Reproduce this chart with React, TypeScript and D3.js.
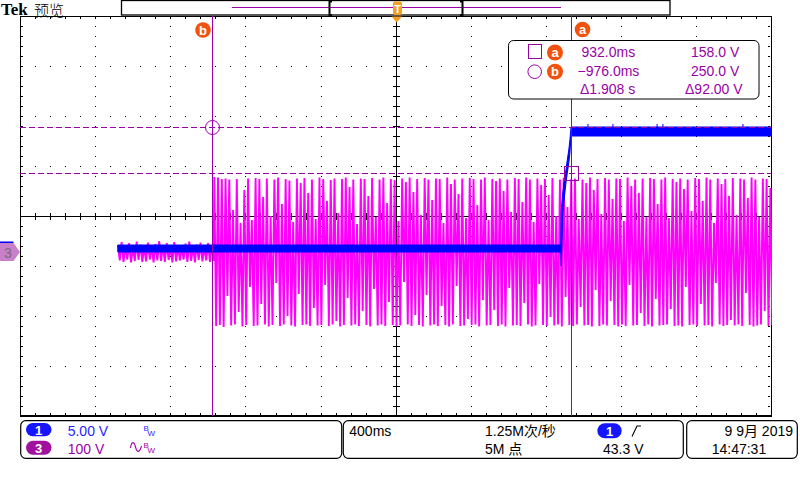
import React from 'react';
import * as d3 from 'd3';

// ---- scope settings ----
const timeDomain: [number, number] = [-2, 2]; // s (400 ms/div, 10 div)
const ch3Domain: [number, number] = [-400, 400]; // V (100 V/div)
const ch1Domain: [number, number] = [-20, 20]; // V (5 V/div)

// ---- channel 3 (magenta) per-cycle extremes, volts ----
const ch3PreStart = -1.479;
const ch3StepStart = -0.966;
const ch3Period = 0.02;
const ch3PreHi = [14, 20, 10, 18, 8, 21, 15, 11, 19, 9, 16, 22, 12, 18, 10, 20, 13, 8, 17, 21, 11, 15, 19, 10, 18, 13];
const ch3PreLo = [-17, -20, -15, -21, -18, -16, -20, -19, -15, -21, -17, -18, -20, -16, -21, -19, -17, -15, -20, -18, -21, -16, -19, -17, -20, -18];
const ch3Hi = [
  150, 149, 146, 147, 145, 84, 146, 58,
  124, 147, 64, 148, 146, 110, 147, 72,
  145, 149, 96, 146, 143, 60, 147, 138,
  148, 118, 145, 66, 149, 146, 102, 144,
  147, 78, 146, 149, 130, 145, 56, 147,
  146, 112, 148, 70, 145, 149, 98, 146,
  144, 62, 147, 140, 149, 120, 146, 74,
  148, 145, 104, 147, 146, 58, 149, 136,
  145, 116, 147, 68, 148, 146, 94, 145,
  149, 64, 146, 142, 147, 122, 145, 80,
  148, 146, 100, 149, 145, 60, 147, 134,
  146, 114, 148, 72, 145, 149, 90, 146,
  147, 66, 145, 138, 149, 124, 146, 76,
  148, 145, 106, 147, 146, 62, 149, 132,
  145, 118, 147, 70, 148, 146, 96, 145,
  149, 68, 146, 140, 147, 126, 145, 82,
  148, 146, 102, 149, 145, 58, 147, 136,
  146, 112, 148, 74, 147, 145, 108, 149,
  145, 70, 147, 146, 128, 148, 145, 96,
];
const ch3Lo = [
  -148, -146, -150, -88, -147, -145, -120, -149,
  -146, -70, -148, -147, -104, -145, -149, -146,
  -62, -148, -145, -128, -147, -149, -84, -146,
  -145, -148, -112, -147, -146, -66, -148, -145,
  -138, -149, -146, -92, -147, -145, -148, -118,
  -146, -149, -74, -147, -145, -148, -100, -146,
  -149, -147, -60, -145, -148, -126, -146, -149,
  -86, -147, -145, -148, -108, -146, -149, -145,
  -68, -148, -147, -134, -146, -145, -149, -96,
  -147, -146, -116, -148, -145, -149, -72, -147,
  -146, -148, -102, -145, -149, -147, -64, -146,
  -148, -130, -147, -145, -149, -90, -146, -148,
  -145, -110, -147, -146, -149, -76, -148, -145,
  -147, -98, -146, -149, -145, -148, -66, -147,
  -146, -122, -148, -145, -149, -94, -147, -146,
  -145, -114, -148, -147, -149, -70, -146, -145,
  -148, -104, -147, -146, -149, -62, -145, -148,
  -146, -136, -147, -145, -148, -82, -146, -149,
  -147, -145, -118, -148, -146, -149, -74, -147,
];

// ---- channel 1 (blue) envelope, volts ----
const ch1Time = [-1.479, 0.878, 0.881, 0.889, 0.897, 0.906, 0.913, 0.921, 0.927, 0.933, 2.0];
const ch1Hi = [0.3, 0.3, 3.8, 5.5, 6.8, 7.8, 8.8, 9.8, 10.8, 12.1, 12.1];
const ch1Lo = [-0.4, -0.4, -1.8, 3.5, 5.0, 6.5, 7.5, 8.5, 9.5, 11.2, 11.2];
const ch1SpikeTime = [1.023, 1.156, 1.391, 1.422, 1.848];
const ch1SpikeV = 12.4;

// ---- cursors ----
const cursorATime = 0.932;
const cursorBTime = -0.976;
const cursorAVolt = 158;
const cursorBVolt = 250;

// ---- texts ----
const readoutRows = [
  ['932.0ms', '158.0 V'],
  ['\u2212976.0ms', '250.0 V'],
  ['\u03941.908 s', '\u039492.00 V'],
];
const ch1Scale = '5.00 V';
const ch3Scale = '100 V';
const timebase = '400ms';
const sampleRate = '1.25M次/秒';
const recordLen = '5M 点';
const trigLevel = '43.3 V';
const dateText = '9 9月 2019';
const timeText = '14:47:31';

const FONT = "'Liberation Sans', 'Noto Sans CJK SC', sans-serif";
const MAG = '#FF00FF';
const BLUE = '#0000FF';
const CUR = '#9A00A8';
const ORANGE = '#F2520E';
const TORANGE = '#F4A024';

export default function App() {
  const x = d3.scaleLinear().domain(timeDomain).range([20, 771.5]);
  const y3 = d3.scaleLinear().domain(ch3Domain).range([452, 52]);
  const y1 = d3.scaleLinear().domain(ch1Domain).range([448, 48]);
  const gx = d3.scaleLinear().domain([0, 10]).range([20, 771.5]);
  const gy = d3.scaleLinear().domain([0, 8]).range([16, 416]);

  // channel 3 zigzag
  const pts: [number, number][] = [];
  ch3PreHi.forEach((h, i) => {
    const t = ch3PreStart + i * ch3Period;
    pts.push([t, h]);
    pts.push([t + ch3Period / 2, ch3PreLo[i]]);
  });
  ch3Hi.forEach((h, i) => {
    const t = ch3StepStart + i * ch3Period;
    pts.push([t, h]);
    pts.push([t + ch3Period / 2, ch3Lo[i]]);
  });
  const ch3Path = d3
    .line<[number, number]>()
    .x((d) => x(d[0]))
    .y((d) => y3(d[1]))(pts) as string;

  const ch1Path = d3
    .area<number>()
    .x((_, i) => x(ch1Time[i]))
    .y0((_, i) => y1(ch1Lo[i]))
    .y1((_, i) => y1(ch1Hi[i]))(ch1Time) as string;

  // grid
  const dots: JSX.Element[] = [];
  for (let k = 1; k <= 9; k++) {
    if (k === 5) continue;
    const xx = Math.round(gx(k));
    for (let j = 1; j < 40; j++) {
      dots.push(<rect key={`v${k}-${j}`} x={xx} y={Math.round(gy(j / 5))} width={1} height={1} />);
    }
  }
  for (let r = 1; r <= 7; r++) {
    if (r === 4) continue;
    const yy = Math.round(gy(r));
    for (let i = 1; i < 50; i++) {
      dots.push(<rect key={`h${r}-${i}`} x={Math.round(gx(i / 5))} y={yy} width={1} height={1} />);
    }
  }
  const ticks: JSX.Element[] = [];
  const cx = Math.round(gx(5));
  const cy = Math.round(gy(4));
  for (let i = 1; i < 50; i++) {
    const xx = Math.round(gx(i / 5));
    ticks.push(<rect key={`ct${i}`} x={xx} y={cy - 3} width={1} height={7} />);
    ticks.push(<rect key={`tt${i}`} x={xx} y={17} width={1} height={2} />);
    ticks.push(<rect key={`bt${i}`} x={xx} y={413} width={1} height={2} />);
  }
  for (let j = 1; j < 40; j++) {
    const yy = Math.round(gy(j / 5));
    ticks.push(<rect key={`cv${j}`} x={cx - 3} y={yy} width={7} height={1} />);
    ticks.push(<rect key={`lt${j}`} x={21} y={yy} width={2} height={1} />);
    ticks.push(<rect key={`rt${j}`} x={768} y={yy} width={2} height={1} />);
  }

  const xa = Math.round(x(cursorATime)) + 0.5;
  const xb = Math.round(x(cursorBTime)) + 0.5;
  const ya = Math.round(y3(cursorAVolt)) + 0.5;
  const yb = Math.round(y3(cursorBVolt)) + 0.5;

  return (
    <svg
      width={800}
      height={480}
      style={{ position: 'absolute', left: 0, top: 0, background: '#fff', fontFamily: FONT }}
    >
      <rect x={0} y={0} width={800} height={480} fill="#fff" />
      <defs>
        <clipPath id="grat">
          <rect x={20} y={16} width={752} height={400} />
        </clipPath>
      </defs>

      {/* header */}
      <text x={1} y={15} fontFamily="'Liberation Serif', serif" fontWeight="bold" fontSize={17} fill="#000">
        Tek
      </text>
      <text x={34} y={16} fontFamily="'Noto Sans CJK SC', sans-serif" fontWeight={300} fontSize={15} fill="#000">
        预览
      </text>
      <rect x={121.5} y={0.5} width={548.5} height={14.5} fill="#fff" stroke="#000" strokeWidth={1.3} />
      <line x1={232} x2={561} y1={7.5} y2={7.5} stroke={CUR} strokeWidth={1} />
      <path d="M332,1.5 L329.5,1.5 L329.5,15 L332,15" fill="none" stroke="#000" strokeWidth={2} />
      <path d="M460,1.5 L462.5,1.5 L462.5,15 L460,15" fill="none" stroke="#000" strokeWidth={2} />

      {/* graticule */}
      <g fill="#000" shapeRendering="crispEdges">
        {dots}
        {ticks}
        <rect x={20} y={cy} width={752} height={1} />
        <rect x={cx} y={16} width={1} height={400} />
      </g>
      <rect x={20.5} y={16.5} width={751} height={399.5} fill="none" stroke="#000" strokeWidth={1} shapeRendering="crispEdges" />
      <rect x={20} y={415} width={752} height={2} fill="#000" />

      {/* traces */}
      <g clipPath="url(#grat)">
        <path d={ch3Path} fill="none" stroke={MAG} strokeWidth={1.9} />
        <path d={ch1Path} fill={BLUE} stroke={BLUE} strokeWidth={1} />
        {ch1SpikeTime.map((t, i) => (
          <line key={i} x1={x(t)} x2={x(t)} y1={y1(ch1SpikeV)} y2={y1(11.6)} stroke={BLUE} strokeWidth={1} />
        ))}
      </g>

      {/* cursors */}
      <g stroke={CUR} fill="none" strokeWidth={1}>
        <line x1={xb} x2={xb} y1={16} y2={416} />
        <line x1={xa} x2={xa} y1={16} y2={416} />
        <line x1={20} x2={771} y1={yb} y2={yb} strokeDasharray="6 3" />
        <line x1={20} x2={771} y1={ya} y2={ya} strokeDasharray="6 3" />
        <circle cx={xb} cy={yb} r={7} />
        <rect x={xa - 7} y={ya - 7} width={14} height={14} />
      </g>
      <circle cx={203} cy={30} r={7.8} fill={ORANGE} />
      <text x={203} y={34.5} textAnchor="middle" fontSize={13} fontWeight="bold" fill="#fff">b</text>
      <circle cx={582.5} cy={29.5} r={7.8} fill={ORANGE} />
      <text x={582.5} y={33.5} textAnchor="middle" fontSize={13} fontWeight="bold" fill="#fff">a</text>

      {/* trigger position marker */}
      <rect x={393} y={1.5} width={9} height={13.5} rx={2} fill={TORANGE} />
      <text x={397.5} y={13} textAnchor="middle" fontSize={11} fontWeight="bold" fill="#fff">T</text>
      <path d="M391.5,16.5 L402,16.5 L396.7,22.5 Z" fill={TORANGE} />

      {/* ground markers */}
      <rect x={0} y={241.5} width={13.5} height={1.7} fill={BLUE} />
      <path d="M0,243 L13.5,243 L20,252 L13.5,261 L0,261 Z" fill="#C97FC9" />
      <text x={4} y={258} fontSize={14} fill="#7A6A7A">3</text>

      {/* readout box */}
      <rect x={508.5} y={40.5} width={250.5} height={58.5} rx={5} fill="#fff" stroke="#000" strokeWidth={1} />
      <rect x={528.5} y={44.5} width={13} height={14} fill="none" stroke={CUR} strokeWidth={1} />
      <circle cx={555} cy={52.5} r={8} fill={ORANGE} />
      <text x={555} y={57} textAnchor="middle" fontSize={13} fontWeight="bold" fill="#fff">a</text>
      <circle cx={534.7} cy={71.7} r={6.8} fill="none" stroke={CUR} strokeWidth={1} />
      <circle cx={555} cy={71.7} r={8} fill={ORANGE} />
      <text x={555} y={76.2} textAnchor="middle" fontSize={13} fontWeight="bold" fill="#fff">b</text>
      <g fontSize={14} fill={CUR}>
        <text x={581.5} y={56.7}>{readoutRows[0][0]}</text>
        <text x={691} y={56.7}>{readoutRows[0][1]}</text>
        <text x={577.5} y={75.7}>{readoutRows[1][0]}</text>
        <text x={691} y={75.7}>{readoutRows[1][1]}</text>
        <text x={580} y={94.3}>{readoutRows[2][0]}</text>
        <text x={685} y={94.3}>{readoutRows[2][1]}</text>
      </g>

      {/* bottom panels */}
      <g fill="none" stroke="#000" strokeWidth={1.2}>
        <rect x={20.7} y={420.7} width={321} height={37.6} rx={5} />
        <rect x={343.3} y={420.7} width={340} height={37.6} rx={5} />
        <rect x={686.7} y={420.7} width={110.6} height={37.6} rx={5} />
      </g>
      <rect x={26} y={423} width={25.5} height={13.3} rx={6.6} fill="#1515FF" />
      <text x={38.7} y={434.5} textAnchor="middle" fontSize={13} fontWeight="bold" fill="#fff">1</text>
      <rect x={26} y={440.8} width={25.5} height={14} rx={7} fill="#A0129E" />
      <text x={38.7} y={452.8} textAnchor="middle" fontSize={13} fontWeight="bold" fill="#fff">3</text>
      <text x={67.7} y={436} fontSize={14} fill="#1F1FFF">{ch1Scale}</text>
      <text x={67.7} y={454} fontSize={14} fill="#A000A8">{ch3Scale}</text>
      <text x={143.5} y={431} fontSize={8} fill="#1F1FFF">B</text>
      <text x={147.5} y={436} fontSize={8} fill="#1F1FFF">W</text>
      <path d="M130.5,448 C131.5,441 134,441 135.5,447 C137,453 139.5,453 141.5,446" fill="none" stroke="#A000A8" strokeWidth={1.1} />
      <text x={143.5} y={448} fontSize={8} fill="#A000A8">B</text>
      <text x={147.5} y={453} fontSize={8} fill="#A000A8">W</text>

      <text x={349.3} y={436} fontSize={14} fill="#000">{timebase}</text>
      <text x={485} y={436} fontSize={14} fill="#000">{sampleRate}</text>
      <text x={485} y={454} fontSize={14} fill="#000">{recordLen}</text>
      <rect x={597.3} y={423.3} width={24.4} height={15} rx={7.5} fill="#1515FF" />
      <text x={609.5} y={435.5} textAnchor="middle" fontSize={13} fontWeight="bold" fill="#fff">1</text>
      <path d="M632,436.5 L637,426 L641,426" fill="none" stroke="#000" strokeWidth={1.1} />
      <text x={603} y={454} fontSize={14} fill="#000">{trigLevel}</text>

      <text x={793} y={436} textAnchor="end" fontSize={14} fill="#000">{dateText}</text>
      <text x={711.7} y={454} fontSize={14} fill="#000">{timeText}</text>
    </svg>
  );
}
